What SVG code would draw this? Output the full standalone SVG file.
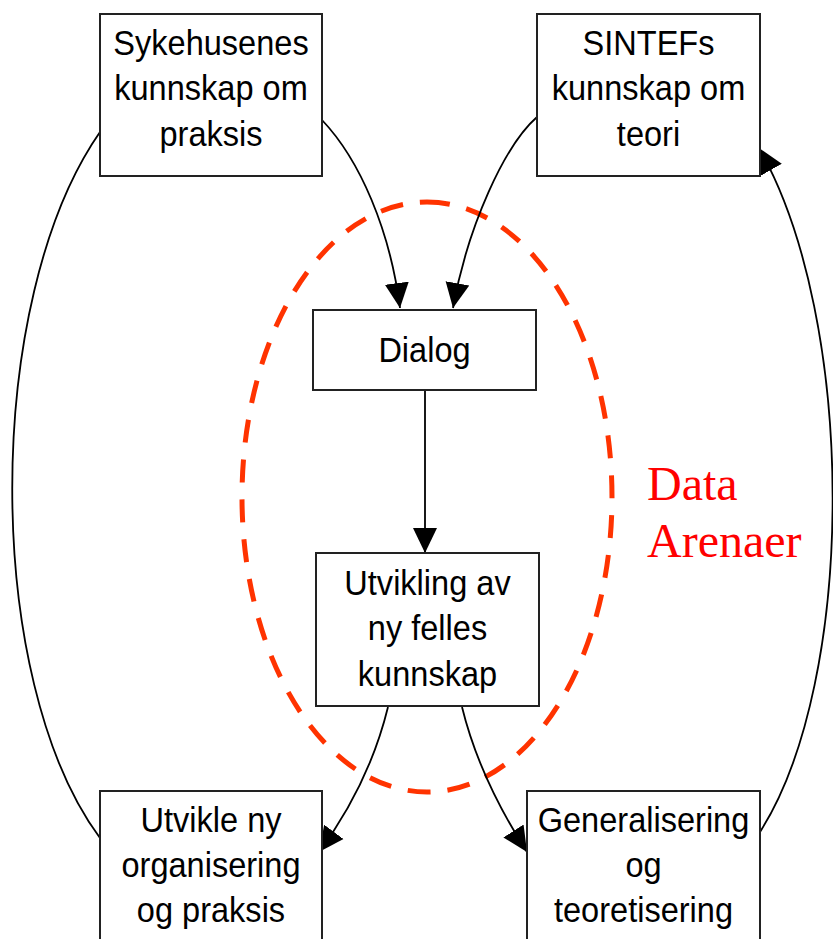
<svg xmlns="http://www.w3.org/2000/svg" width="833" height="939" viewBox="0 0 833 939">
<style>
.box{fill:#fff;stroke:#222;stroke-width:2}
.lbl{font-family:"Liberation Sans",Arial,sans-serif;font-size:35px;fill:#000;text-anchor:middle}
.con{fill:none;stroke:#000;stroke-width:1.8}
.arena{fill:none;stroke:#FF3300;stroke-width:5;stroke-dasharray:23 17}
.red{font-family:"Liberation Serif","Times New Roman",serif;font-size:48px;fill:#FF0000}
</style>
<defs>
<marker id="ah" markerUnits="userSpaceOnUse" markerWidth="26" markerHeight="26" viewBox="0 0 26 26" refX="25" refY="13" orient="auto">
<path d="M0,1 L25,13 L0,25 Z" fill="#000"/>
</marker>
</defs>
<rect width="833" height="939" fill="#fff"/>
<g id="arena">
<path class="arena" d="M427,202 A185,295 0 0 1 427,792 A185,295 0 0 1 427,202 Z"/>
<text class="red" x="647" y="500">Data</text>
<text class="red" x="647" y="557">Arenaer</text>
</g>
<g id="connectors">
<path class="con" d="M322,120 C360,160 390,230 400,308" marker-end="url(#ah)"/>
<path class="con" d="M537,117 C505,145 468,225 453,308" marker-end="url(#ah)"/>
<path class="con" d="M425,390 L425,553" marker-end="url(#ah)"/>
<path class="con" d="M388,707 C375,760 350,810 319,852" marker-end="url(#ah)"/>
<path class="con" d="M462,707 C475,760 500,810 527,852" marker-end="url(#ah)"/>
<path class="con" d="M100,132 C-17,300 -17,680 100,838"/>
<path class="con" d="M760,832 C857,680 857,320 759,148" marker-end="url(#ah)"/>
</g>
<g id="sykehus">
<rect class="box" x="100" y="14" width="222" height="162"/>
<g transform="translate(211,0) scale(0.93,1)">
<text class="lbl" x="0" y="55">Sykehusenes</text>
<text class="lbl" x="0" y="100">kunnskap om</text>
<text class="lbl" x="0" y="146">praksis</text>
</g>
</g>
<g id="sintef">
<rect class="box" x="537" y="14" width="223" height="162"/>
<g transform="translate(648.5,0) scale(0.93,1)">
<text class="lbl" x="0" y="55">SINTEFs</text>
<text class="lbl" x="0" y="100">kunnskap om</text>
<text class="lbl" x="0" y="146">teori</text>
</g>
</g>
<g id="dialog">
<rect class="box" x="313" y="310" width="223" height="80"/>
<g transform="translate(424.5,0) scale(0.93,1)">
<text class="lbl" x="0" y="362">Dialog</text>
</g>
</g>
<g id="utvikling">
<rect class="box" x="316" y="553" width="223" height="153"/>
<g transform="translate(427.5,0) scale(0.93,1)">
<text class="lbl" x="0" y="595">Utvikling av</text>
<text class="lbl" x="0" y="640">ny felles</text>
<text class="lbl" x="0" y="686">kunnskap</text>
</g>
</g>
<g id="utvikle">
<rect class="box" x="100" y="791" width="222" height="160"/>
<g transform="translate(211,0) scale(0.93,1)">
<text class="lbl" x="0" y="832">Utvikle ny</text>
<text class="lbl" x="0" y="877">organisering</text>
<text class="lbl" x="0" y="922">og praksis</text>
</g>
</g>
<g id="generalisering">
<rect class="box" x="527" y="791" width="233" height="160"/>
<g transform="translate(643.5,0) scale(0.93,1)">
<text class="lbl" x="0" y="832">Generalisering</text>
<text class="lbl" x="0" y="877">og</text>
<text class="lbl" x="0" y="922">teoretisering</text>
</g>
</g>
</svg>
